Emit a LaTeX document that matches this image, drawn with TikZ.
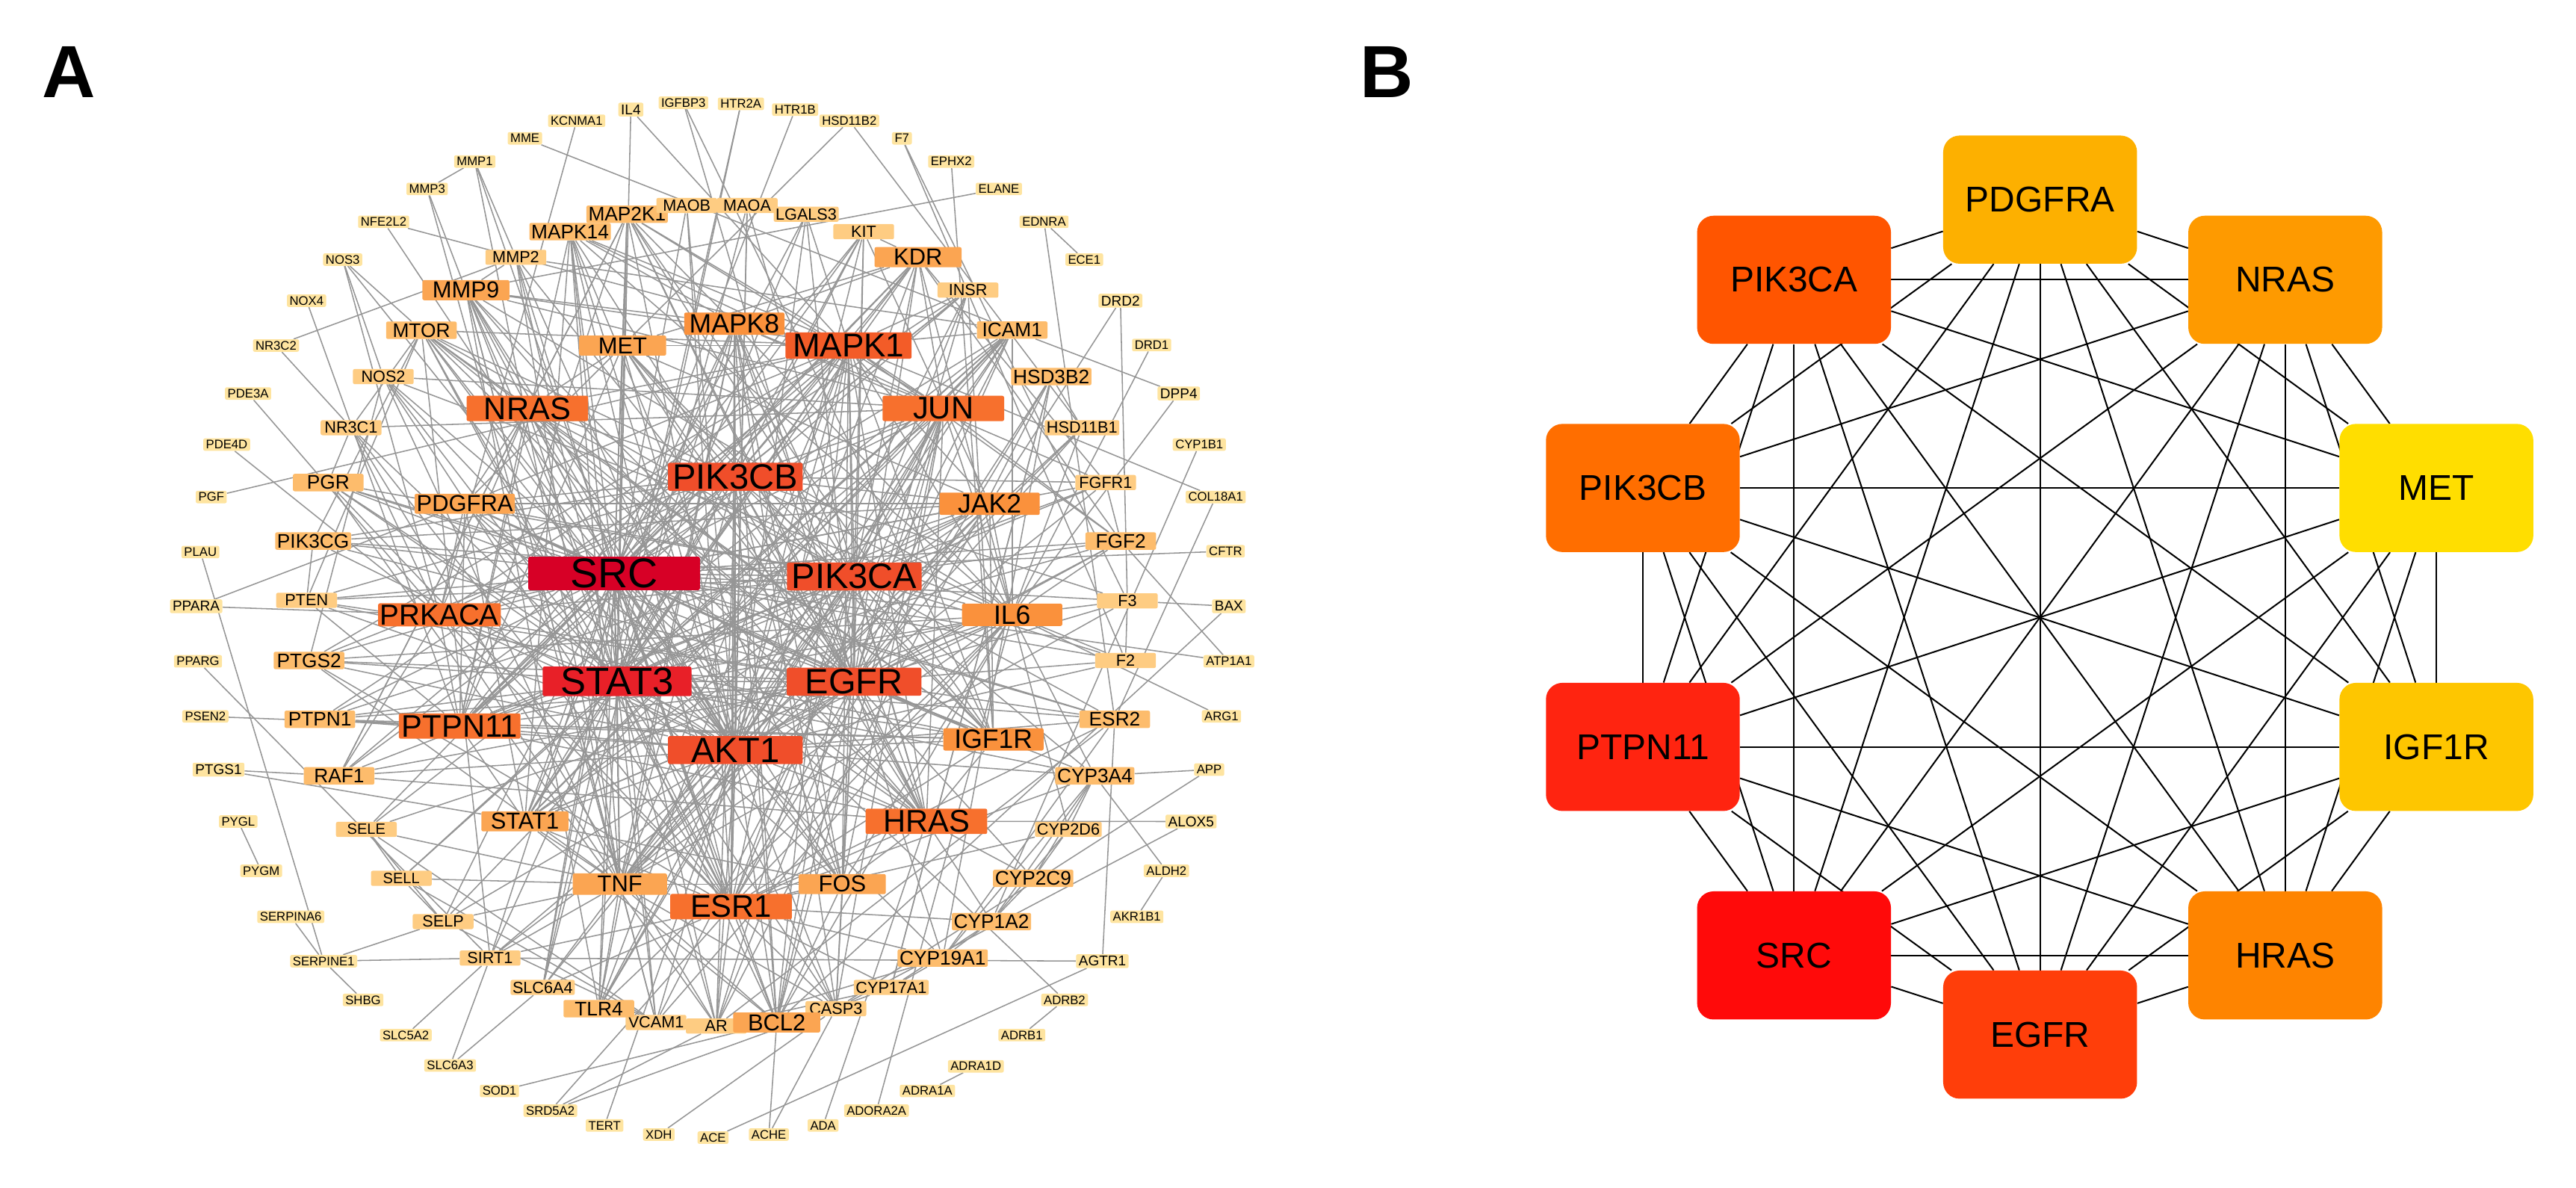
\documentclass[tikz,border=0pt]{standalone}
\usepackage{fontspec}
\setmainfont{Liberation Sans}
\usetikzlibrary{backgrounds}
\newcommand\gfs[1]{\fontsize{#1}{#1}\selectfont}
\definecolor{cSRC}{RGB}{215,0,38}
\definecolor{cST3}{RGB}{232,32,40}
\definecolor{cCore}{RGB}{240,78,42}
\definecolor{cMK1}{RGB}{243,92,40}
\definecolor{cT3}{RGB}{247,112,45}
\definecolor{cT4a}{RGB}{250,145,60}
\definecolor{cT4}{RGB}{251,165,82}
\definecolor{cT5}{RGB}{253,188,108}
\definecolor{cT6}{RGB}{254,204,130}
\definecolor{cOut}{RGB}{254,228,160}
\definecolor{edgeA}{RGB}{150,150,150}
\definecolor{bPDG}{RGB}{253,176,0}
\definecolor{bNRAS}{RGB}{254,154,0}
\definecolor{bMET}{RGB}{255,222,0}
\definecolor{bIGF}{RGB}{254,198,0}
\definecolor{bHRAS}{RGB}{254,132,0}
\definecolor{bEGFR}{RGB}{255,62,10}
\definecolor{bSRC}{RGB}{255,10,10}
\definecolor{bPTP}{RGB}{255,36,16}
\definecolor{bPIKB}{RGB}{255,110,0}
\definecolor{bPIKA}{RGB}{255,85,0}
\tikzset{
 gn/.style={rectangle, rounded corners=1.5pt, inner xsep=0.06cm, inner ysep=0pt, text=black},
 tS/.style={gn, fill=cSRC, minimum width=5.22cm, minimum height=1.02cm, font=\gfs{36}},
 tST/.style={gn, fill=cST3, minimum width=4.53cm, minimum height=0.9cm, font=\gfs{33}},
 tC/.style={gn, fill=cCore, minimum width=4.1cm, minimum height=0.85cm, font=\gfs{30.5}},
 tthree/.style={gn, fill=cT3, minimum width=3.7cm, minimum height=0.77cm, font=\gfs{27}},
 tfoura/.style={gn, fill=cT4a, minimum width=3.05cm, minimum height=0.68cm, font=\gfs{23}},
 tfour/.style={gn, fill=cT4, minimum width=2.65cm, minimum height=0.61cm, font=\gfs{20}},
 tfive/.style={gn, fill=cT5, minimum width=2.15cm, minimum height=0.53cm, font=\gfs{17}},
 tsix/.style={gn, fill=cT6, minimum width=1.85cm, minimum height=0.46cm, font=\gfs{14}},
 tout/.style={gn, fill=cOut, inner xsep=0.08cm, minimum height=0.38cm, font=\gfs{10.8}},
 toutb/.style={tout, minimum height=0.42cm, font=\gfs{12.3}},
 bn/.style={rectangle, rounded corners=0.5cm, minimum width=5.9cm, minimum height=3.9cm, inner sep=0pt, font=\gfs{31}, text=black},
 ea/.style={draw=edgeA, line width=1pt},
 eb/.style={draw=black, line width=1.3pt},
 plab/.style={font=\bfseries\gfs{64}, inner sep=0pt}
}
\begin{document}
\begin{tikzpicture}[x=0.05cm,y=-0.05cm]
\useasboundingbox (0,0) rectangle (1568,723);
\node[plab] (labA) at (42,44) {A};
\node[plab] (labB) at (844,44) {B};
% ---------- Panel A : outer ring ----------
\node[toutb] (IL4) at (384,66.7) {IL4};
\node[tout] (KCNMA1) at (351,73.5) {KCNMA1};
\node[tout] (MME) at (319.5,84.2) {MME};
\node[tout] (MMP1) at (289,98.3) {MMP1};
\node[tout] (MMP3) at (260,115) {MMP3};
\node[tout] (NFE2L2) at (233.5,135) {NFE2L2};
\node[tout] (NOS3) at (208.6,158) {NOS3};
\node[tout] (NOX4) at (186.6,183) {NOX4};
\node[tout] (NR3C2) at (168,210.3) {NR3C2};
\node[tout] (PDE3A) at (151,239.5) {PDE3A};
\node[tout] (PDE4D) at (138,270.6) {PDE4D};
\node[tout] (PGF) at (128.6,302.5) {PGF};
\node[tout] (PLAU) at (122,336) {PLAU};
\node[toutb] (PPARA) at (119.4,369) {PPARA};
\node[tout] (PPARG) at (120.5,402.5) {PPARG};
\node[tout] (PSEN2) at (125,436) {PSEN2};
\node[toutb] (PTGS1) at (133,468.4) {PTGS1};
\node[tout] (PYGL) at (145,500) {PYGL};
\node[tout] (PYGM) at (159,530) {PYGM};
\node[tout] (SERPINA6) at (177,558) {SERPINA6};
\node[tout] (SERPINE1) at (197,585) {SERPINE1};
\node[tout] (SHBG) at (221,608.6) {SHBG};
\node[tout] (SLC5A2) at (247,630) {SLC5A2};
\node[tout] (SLC6A3) at (274,648.5) {SLC6A3};
\node[tout] (SOD1) at (304,664) {SOD1};
\node[tout] (SRD5A2) at (335,676) {SRD5A2};
\node[tout] (TERT) at (368,685) {TERT};
\node[tout] (XDH) at (401,690.5) {XDH};
\node[tout] (ACE) at (434,692.4) {ACE};
\node[tout] (ACHE) at (468,690.5) {ACHE};
\node[tout] (ADA) at (501,685) {ADA};
\node[tout] (ADORA2A) at (533.5,676) {ADORA2A};
\node[tout] (ADRA1A) at (564.5,664) {ADRA1A};
\node[tout] (ADRA1D) at (594,649) {ADRA1D};
\node[tout] (ADRB1) at (622,630) {ADRB1};
\node[tout] (ADRB2) at (648,608.6) {ADRB2};
\node[toutb] (AGTR1) at (671,585) {AGTR1};
\node[tout] (AKR1B1) at (692,558) {AKR1B1};
\node[tout] (ALDH2) at (710,530) {ALDH2};
\node[toutb] (ALOX5) at (725,500) {ALOX5};
\node[tout] (APP) at (736,468.4) {APP};
\node[tout] (ARG1) at (743.5,436) {ARG1};
\node[tout] (ATP1A1) at (748,402.5) {ATP1A1};
\node[toutb] (BAX) at (748,369) {BAX};
\node[tout] (CFTR) at (746,335.5) {CFTR};
\node[tout] (COL18A1) at (740,302.5) {COL18A1};
\node[tout] (CYP1B1) at (730,270.6) {CYP1B1};
\node[toutb] (DPP4) at (717.5,239.5) {DPP4};
\node[tout] (DRD1) at (701,210) {DRD1};
\node[toutb] (DRD2) at (682,183) {DRD2};
\node[tout] (ECE1) at (660,158) {ECE1};
\node[tout] (EDNRA) at (635.5,135) {EDNRA};
\node[tout] (ELANE) at (608,115) {ELANE};
\node[tout] (EPHX2) at (579,98.3) {EPHX2};
\node[tout] (F7) at (549,84.2) {F7};
\node[tout] (HSD11B2) at (517,73.5) {HSD11B2};
\node[tout] (HTR1B) at (484,66.7) {HTR1B};
\node[tout] (HTR2A) at (451,63.2) {HTR2A};
\node[tout] (IGFBP3) at (416,62.5) {IGFBP3};
% ---------- middle ring ----------
\node[tfive] (MAP2K1) at (381.7,130.4) {MAP2K1};
\node[tsix] (MAOB) at (418,125.1) {MAOB};
\node[tsix] (MAOA) at (454.8,125.1) {MAOA};
\node[tsix] (LGALS3) at (490.7,130.4) {LGALS3};
\node[tsix] (KIT) at (525.7,141) {KIT};
\node[tfour] (KDR) at (558.8,156.5) {KDR};
\node[tsix] (INSR) at (589.2,176.6) {INSR};
\node[tfive] (ICAM1) at (616.1,200.9) {ICAM1};
\node[tfive] (HSD3B2) at (639.9,229.2) {HSD3B2};
\node[tsix] (HSD11B1) at (658.6,260.3) {HSD11B1};
\node[tsix] (FGFR1) at (673,293.7) {FGFR1};
\node[tfive] (FGF2) at (682.2,329.3) {FGF2};
\node[tsix] (F3) at (686.2,365.7) {F3};
\node[tsix] (F2) at (685.1,402) {F2};
\node[tfive] (ESR2) at (678.5,437.8) {ESR2};
\node[tfive] (CYP3A4) at (666.4,472.2) {CYP3A4};
\node[tsix] (CYP2D6) at (650.3,504.8) {CYP2D6};
\node[tfive] (CYP2C9) at (628.9,534.6) {CYP2C9};
\node[tfive] (CYP1A2) at (603.5,560.9) {CYP1A2};
\node[tfive] (CYP19A1) at (573.8,583.1) {CYP19A1};
\node[tsix] (CYP17A1) at (542.5,601) {CYP17A1};
\node[tsix] (CASP3) at (508.8,613.9) {CASP3};
\node[tsix] (AR) at (436,624.5) {AR};
\node[tfour] (BCL2) at (472.8,622.3) {BCL2};
\node[tsix] (VCAM1) at (399.3,622.3) {VCAM1};
\node[tfive] (TLR4) at (364.5,613.9) {TLR4};
\node[tsix] (SLC6A4) at (330.3,601) {SLC6A4};
\node[tsix] (SIRT1) at (298.3,583.1) {SIRT1};
\node[tsix] (SELP) at (269.7,560.9) {SELP};
\node[tsix, font=\gfs{13}] (SELL) at (244.3,534.6) {SELL};
\node[tsix, font=\gfs{13}] (SELE) at (223,504.8) {SELE};
\node[tfive] (RAF1) at (206.4,472.2) {RAF1};
\node[tfive] (PTPN1) at (194.7,437.8) {PTPN1};
\node[tfive] (PTGS2) at (188.1,402) {PTGS2};
\node[tsix] (PTEN) at (186.6,365.4) {PTEN};
\node[tfive] (PIK3CG) at (190.6,329.3) {PIK3CG};
\node[tfive] (PGR) at (199.8,293.7) {PGR};
\node[tsix] (NR3C1) at (213.7,260.3) {NR3C1};
\node[tsix] (NOS2) at (233.3,229.2) {NOS2};
\node[tfive] (MTOR) at (256.5,201) {MTOR};
\node[tfour] (MMP9) at (283.6,176.6) {MMP9};
\node[tsix] (MMP2) at (314,156.6) {MMP2};
\node[tfive] (MAPK14) at (347,141) {MAPK14};
% ---------- inner ring ----------
\node[tfoura] (MAPK8) at (447,197) {MAPK8};
\node[tthree, fill=cMK1, font=\gfs{28.5}, minimum width=3.84cm, minimum height=0.8cm] (MAPK1) at (516.5,210.3) {MAPK1};
\node[tthree] (JUN) at (574.2,248.6) {JUN};
\node[tfoura] (JAK2) at (602.4,306.6) {JAK2};
\node[tfoura] (IL6) at (616.1,374.2) {IL6};
\node[tfoura] (IGF1R) at (604.7,450) {IGF1R};
\node[tthree] (HRAS) at (563.9,499.9) {HRAS};
\node[tfour] (FOS) at (512.7,538.1) {FOS};
\node[tthree] (ESR1) at (445,551.8) {ESR1};
\node[tfour, minimum width=2.87cm, minimum height=0.65cm] (TNF) at (377.3,538.1) {TNF};
\node[tfour] (STAT1) at (319.5,499.9) {STAT1};
\node[tthree] (PTPN11) at (279.8,441.9) {PTPN11};
\node[tthree, font=\gfs{25}, minimum width=3.4cm, minimum height=0.7cm] (PRKACA) at (267.5,374.2) {PRKACA};
\node[tfour] (PDGFRA) at (282.9,306.6) {PDGFRA};
\node[tthree] (NRAS) at (321,248.6) {NRAS};
\node[tfour] (MET) at (379,210.3) {MET};
% ---------- core ----------
\node[tC] (PIK3CB) at (447.6,290.2) {PIK3CB};
\node[tS] (SRC) at (373.8,349) {SRC};
\node[tC] (PIK3CA) at (520,350.9) {PIK3CA};
\node[tST] (STAT3) at (375.6,414.7) {STAT3};
\node[tC] (EGFR) at (519.9,414.9) {EGFR};
\node[tC] (AKT1) at (447.6,456.5) {AKT1};
% ---------- Panel B ----------
\node[bn, fill=bPDG] (bPDGFRA) at (1241.8,121.5) {PDGFRA};
\node[bn, fill=bNRAS] (bNRAS) at (1391,170.3) {NRAS};
\node[bn, fill=bMET] (bMET) at (1483,297) {MET};
\node[bn, fill=bIGF] (bIGF1R) at (1483,454.6) {IGF1R};
\node[bn, fill=bHRAS] (bHRAS) at (1391,581.5) {HRAS};
\node[bn, fill=bEGFR] (bEGFR) at (1241.8,629.7) {EGFR};
\node[bn, fill=bSRC] (bSRC) at (1092,581.5) {SRC};
\node[bn, fill=bPTP] (bPTPN11) at (1000,454.6) {PTPN11};
\node[bn, fill=bPIKB] (bPIK3CB) at (1000,297) {PIK3CB};
\node[bn, fill=bPIKA] (bPIK3CA) at (1092,170.3) {PIK3CA};
\begin{pgfonlayer}{background}
% Panel B: complete graph
\foreach \a [count=\i] in {bPDGFRA,bNRAS,bMET,bIGF1R,bHRAS,bEGFR,bSRC,bPTPN11,bPIK3CB,bPIK3CA}{
  \foreach \b [count=\j] in {bPDGFRA,bNRAS,bMET,bIGF1R,bHRAS,bEGFR,bSRC,bPTPN11,bPIK3CB,bPIK3CA}{
    \ifnum\j>\i \draw[eb] (\a) -- (\b); \fi
  }
}
% Panel A: core pairs
\foreach \a/\b in {SRC/STAT3,SRC/PIK3CA,SRC/PIK3CB,SRC/EGFR,SRC/AKT1,STAT3/PIK3CA,STAT3/PIK3CB,STAT3/EGFR,STAT3/AKT1,PIK3CA/PIK3CB,PIK3CA/EGFR,PIK3CA/AKT1,PIK3CB/EGFR,PIK3CB/AKT1,EGFR/AKT1}
  \draw[ea] (\a) -- (\b);
% core to inner ring
\foreach \c in {SRC,STAT3,PIK3CA,PIK3CB,EGFR,AKT1}
  \foreach \i in {MAPK8,MAPK1,JUN,JAK2,IL6,IGF1R,HRAS,FOS,ESR1,TNF,STAT1,PTPN11,PRKACA,PDGFRA,NRAS,MET}
    \draw[ea] (\c) -- (\i);
% inner ring pairs
\foreach \a/\b in {MAPK8/MAPK1,MAPK8/JUN,MAPK8/TNF,MAPK8/IL6,MAPK8/STAT1,MAPK8/FOS,MAPK8/ESR1,MAPK8/HRAS,
 MAPK1/JUN,MAPK1/FOS,MAPK1/HRAS,MAPK1/NRAS,MAPK1/ESR1,MAPK1/IL6,MAPK1/TNF,MAPK1/STAT1,MAPK1/PTPN11,MAPK1/MET,MAPK1/IGF1R,MAPK1/PDGFRA,MAPK1/PRKACA,
 JUN/FOS,JUN/TNF,JUN/IL6,JUN/ESR1,JUN/STAT1,JUN/HRAS,
 JAK2/STAT1,JAK2/IL6,JAK2/PTPN11,JAK2/PDGFRA,JAK2/IGF1R,JAK2/MET,JAK2/TNF,
 IL6/TNF,IL6/STAT1,IL6/ESR1,IL6/FOS,IL6/PTPN11,
 IGF1R/HRAS,IGF1R/PTPN11,IGF1R/ESR1,IGF1R/MET,IGF1R/NRAS,IGF1R/PDGFRA,
 HRAS/NRAS,HRAS/PTPN11,HRAS/PDGFRA,HRAS/MET,HRAS/FOS,HRAS/ESR1,
 FOS/ESR1,FOS/TNF,FOS/STAT1,ESR1/TNF,ESR1/PRKACA,ESR1/STAT1,TNF/STAT1,TNF/PRKACA,
 STAT1/PTPN11,STAT1/PDGFRA,PTPN11/PDGFRA,PTPN11/NRAS,PTPN11/MET,PTPN11/PRKACA,
 PRKACA/NRAS,PRKACA/PDGFRA,PDGFRA/NRAS,PDGFRA/MET,NRAS/MET}
  \draw[ea] (\a) -- (\b);
% middle ring
\foreach \a/\b in {MAOB/MAOA,MAOB/AKT1,MAOB/SLC6A4,MAOB/ESR1,
 MAP2K1/SRC,MAP2K1/STAT3,MAP2K1/PIK3CA,MAP2K1/EGFR,MAP2K1/AKT1,MAP2K1/MAPK1,MAP2K1/HRAS,MAP2K1/NRAS,MAP2K1/RAF1,MAP2K1/MET,MAP2K1/JUN,MAP2K1/IGF1R,MAP2K1/PTPN11,MAP2K1/MAPK8,
 MAPK14/SRC,MAPK14/STAT3,MAPK14/AKT1,MAPK14/MAPK1,MAPK14/JUN,MAPK14/TNF,MAPK14/IL6,MAPK14/FOS,MAPK14/ESR1,MAPK14/MAPK8,MAPK14/PTPN11,MAPK14/STAT1,MAPK14/EGFR,
 MMP2/MMP9,MMP2/SRC,MMP2/STAT3,MMP2/EGFR,MMP2/TNF,MMP2/MMP1,MMP2/ICAM1,MMP2/AKT1,
 MMP9/SRC,MMP9/STAT3,MMP9/AKT1,MMP9/EGFR,MMP9/TNF,MMP9/IL6,MMP9/MAPK1,MMP9/MAPK8,MMP9/JUN,MMP9/FOS,MMP9/ESR1,MMP9/VCAM1,MMP9/TLR4,MMP9/HRAS,MMP9/MMP3,
 MTOR/AKT1,MTOR/PIK3CA,MTOR/PIK3CB,MTOR/SRC,MTOR/EGFR,MTOR/MAPK1,MTOR/PTEN,MTOR/IGF1R,MTOR/STAT3,MTOR/NRAS,MTOR/HRAS,MTOR/ESR1,MTOR/NOS3,
 NOS2/AKT1,NOS2/STAT3,NOS2/TNF,NOS2/IL6,NOS2/SRC,NOS2/ESR1,NOS2/NOS3,NOS2/JUN,
 NR3C1/ESR1,NR3C1/PRKACA,NR3C1/STAT3,NR3C1/JUN,NR3C1/AR,NR3C1/PGR,NR3C1/MTOR,
 PGR/ESR1,PGR/ESR2,PGR/AR,PGR/SRC,PGR/STAT3,PGR/PIK3CA,PGR/EGFR,PGR/AKT1,
 PIK3CG/AKT1,PIK3CG/SRC,PIK3CG/PIK3CA,PIK3CG/PIK3CB,PIK3CG/PTEN,PIK3CG/EGFR,PIK3CG/JAK2,PIK3CG/MTOR,
 PTEN/AKT1,PTEN/PIK3CA,PTEN/PIK3CB,PTEN/SRC,PTEN/EGFR,PTEN/PTPN11,PTEN/IGF1R,
 PTGS2/AKT1,PTGS2/STAT3,PTGS2/TNF,PTGS2/IL6,PTGS2/EGFR,PTGS2/MAPK1,PTGS2/SRC,PTGS2/ESR1,PTGS2/JUN,PTGS2/NOS2,
 PTPN1/SRC,PTPN1/EGFR,PTPN1/IGF1R,PTPN1/JAK2,PTPN1/STAT3,PTPN1/INSR,PTPN1/PTPN11,PTPN1/AKT1,
 RAF1/SRC,RAF1/HRAS,RAF1/NRAS,RAF1/MAPK1,RAF1/EGFR,RAF1/AKT1,RAF1/PIK3CA,RAF1/PRKACA,
 SELE/SELP,SELE/SELL,SELE/ICAM1,SELE/VCAM1,SELE/TNF,SELE/SRC,SELE/IL6,
 SELL/SELP,SELL/ICAM1,SELL/STAT3,SELL/TNF,SELL/VCAM1,
 SELP/ICAM1,SELP/VCAM1,SELP/TNF,SELP/SRC,SELP/AKT1,
 SIRT1/AKT1,SIRT1/STAT3,SIRT1/ESR1,SIRT1/TNF,SIRT1/SRC,SIRT1/EGFR,SIRT1/MTOR,
 SLC6A4/TNF,SLC6A4/AKT1,SLC6A4/ESR1,SLC6A4/MAOA,SLC6A4/SRC,
 TLR4/TNF,TLR4/IL6,TLR4/STAT3,TLR4/AKT1,TLR4/SRC,TLR4/MAPK1,TLR4/MAPK8,TLR4/JUN,TLR4/PIK3CA,
 VCAM1/TNF,VCAM1/ICAM1,VCAM1/STAT3,VCAM1/SRC,VCAM1/AKT1,VCAM1/IL6,
 AR/ESR1,AR/SRC,AR/STAT3,AR/AKT1,AR/EGFR,AR/PIK3CA,AR/ESR2,AR/PIK3CB,
 BCL2/AKT1,BCL2/STAT3,BCL2/TNF,BCL2/ESR1,BCL2/JUN,BCL2/EGFR,BCL2/SRC,BCL2/CASP3,BCL2/MAPK1,BCL2/MAPK8,BCL2/IL6,BCL2/PIK3CA,BCL2/PIK3CB,BCL2/STAT1,BCL2/FOS,
 CASP3/AKT1,CASP3/TNF,CASP3/STAT3,CASP3/SRC,CASP3/EGFR,CASP3/MAPK8,CASP3/JUN,CASP3/ESR1,CASP3/FOS,
 CYP17A1/CYP19A1,CYP17A1/AR,CYP17A1/ESR1,CYP17A1/CYP1A2,CYP17A1/HSD3B2,
 CYP19A1/ESR1,CYP19A1/AR,CYP19A1/AKT1,CYP19A1/CYP1A2,CYP19A1/CYP3A4,CYP19A1/ESR2,CYP19A1/EGFR,
 CYP1A2/CYP3A4,CYP1A2/CYP2C9,CYP1A2/CYP2D6,CYP1A2/ESR1,CYP1A2/HRAS,
 CYP2C9/CYP3A4,CYP2C9/CYP2D6,CYP2C9/EGFR,CYP2C9/HRAS,
 CYP2D6/CYP3A4,CYP2D6/ESR1,CYP2D6/IL6,
 CYP3A4/ESR1,CYP3A4/AKT1,CYP3A4/PIK3CA,CYP3A4/EGFR,CYP3A4/IL6,CYP3A4/STAT3,
 ESR2/ESR1,ESR2/EGFR,ESR2/SRC,ESR2/AKT1,ESR2/PIK3CA,ESR2/STAT3,
 F2/F3,F2/SRC,F2/EGFR,F2/IL6,F2/PIK3CA,F2/AKT1,
 F3/TNF,F3/IL6,F3/EGFR,F3/SRC,F3/PIK3CB,
 FGF2/FGFR1,FGF2/SRC,FGF2/EGFR,FGF2/PIK3CA,FGF2/IL6,FGF2/KDR,FGF2/AKT1,FGF2/MAPK1,FGF2/STAT3,FGF2/JUN,
 FGFR1/SRC,FGFR1/EGFR,FGFR1/PIK3CA,FGFR1/STAT3,FGFR1/PIK3CB,FGFR1/KDR,FGFR1/MAPK8,
 HSD11B1/HSD3B2,HSD11B1/IL6,HSD11B1/TNF,HSD11B1/EGFR,HSD11B1/AKT1,
 HSD3B2/CYP17A1,HSD3B2/CYP19A1,HSD3B2/ESR1,HSD3B2/AR,HSD3B2/EGFR,
 ICAM1/TNF,ICAM1/IL6,ICAM1/STAT3,ICAM1/JUN,ICAM1/SRC,ICAM1/MAPK1,ICAM1/EGFR,ICAM1/AKT1,ICAM1/STAT1,
 INSR/IGF1R,INSR/PIK3CA,INSR/PIK3CB,INSR/AKT1,INSR/SRC,INSR/MAPK1,INSR/EGFR,INSR/PTPN11,
 KDR/SRC,KDR/PIK3CA,KDR/PIK3CB,KDR/EGFR,KDR/AKT1,KDR/STAT3,KDR/MAPK1,KDR/IL6,KDR/PTPN11,KDR/JUN,KDR/MAPK8,KDR/MET,
 KIT/SRC,KIT/PIK3CA,KIT/PIK3CB,KIT/STAT3,KIT/EGFR,KIT/AKT1,KIT/KDR,KIT/JAK2,KIT/PTPN11,
 LGALS3/AKT1,LGALS3/EGFR,LGALS3/STAT3,LGALS3/SRC,LGALS3/MAPK1,
 MAOA/AKT1,MAOA/ESR1,MAOA/HRAS}
  \draw[ea] (\a) -- (\b);
% outer ring
\foreach \a/\b in {IGFBP3/IGF1R,IGFBP3/EGFR,HTR2A/STAT3,HTR2A/SLC6A4,HTR1B/SRC,HSD11B2/HSD11B1,HSD11B2/MET,
 F7/F3,F7/F2,EPHX2/IGF1R,ELANE/MMP9,EDNRA/ECE1,EDNRA/ESR2,DRD2/JAK2,DRD2/F3,DRD1/IL6,DPP4/ICAM1,DPP4/IL6,
 CYP1B1/CYP1A2,COL18A1/MAPK1,COL18A1/ESR2,CFTR/SRC,BAX/F3,BAX/BCL2,ATP1A1/FGF2,ATP1A1/SRC,ARG1/IL6,
 APP/CYP3A4,APP/CASP3,ALOX5/HRAS,ALOX5/CASP3,ALDH2/CYP3A4,ALDH2/AKR1B1,AGTR1/SIRT1,AGTR1/ESR2,AGTR1/ACE,
 ADRB2/ADRB1,ADRB2/SRC,ADRA1D/ADRA1A,ADORA2A/IL6,ADA/HRAS,ACHE/BCL2,ACHE/CASP3,XDH/CASP3,TERT/AKT1,
 SRD5A2/AR,SRD5A2/CYP17A1,SRD5A2/ESR1,SOD1/BCL2,SLC6A3/SLC6A4,SLC6A3/SIRT1,SLC5A2/SIRT1,SHBG/SERPINE1,
 SERPINE1/SIRT1,SERPINE1/SELP,SERPINE1/PLAU,SERPINA6/SERPINE1,PYGM/PYGL,PTGS1/RAF1,PTGS1/STAT1,
 PSEN2/PTPN11,PPARG/SIRT1,PPARA/PRKACA,PPARA/PDGFRA,PGF/MAPK1,PDE4D/PRKACA,PDE3A/PRKACA,NR3C2/NR3C1,
 NR3C2/MMP2,NOX4/PTPN11,NOS3/PRKACA,NOS3/AKT1,NFE2L2/MAPK1,NFE2L2/AKT1,MMP3/MMP1,MMP3/TNF,MMP1/TNF,
 MMP1/ESR1,MME/ICAM1,KCNMA1/PRKACA,IL4/STAT3,IL4/JAK2}
  \draw[ea] (\a) -- (\b);
\end{pgfonlayer}
\end{tikzpicture}
\end{document}
